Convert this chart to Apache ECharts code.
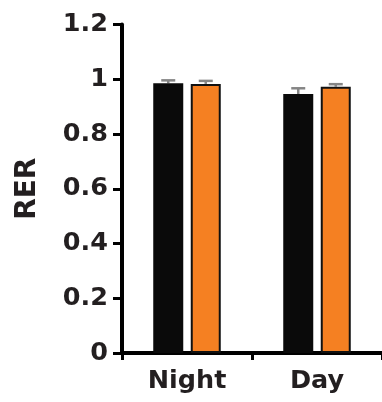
<!DOCTYPE html>
<html>
<head>
<meta charset="utf-8">
<script src="https://cdn.jsdelivr.net/npm/echarts@6/dist/echarts.min.js"></script>
<style>
  html, body { margin: 0; padding: 0; background: #fff; }
  #chart { width: 382px; height: 402px; }
</style>
</head>
<body>
<div id="chart"></div>
<script>
// RER by light phase, two groups, mean ± SEM
const categories = ['Night', 'Day'];
const groupAMean = [0.985, 0.946];
const groupAErr = [0.011, 0.021];
const groupBMean = [0.983, 0.973];
const groupBErr = [0.011, 0.009];
const yTicks = [0, 0.2, 0.4, 0.6, 0.8, 1, 1.2];

const BAR_W = 30;
const BAR_GAP = 0.25;
const OFFSET = (BAR_W * (1 + BAR_GAP)) / 2;
const TEXT = '#231f20';
const FONT = 'DejaVu Sans';

function errorSeries(means, errs, dx) {
  return {
    type: 'custom',
    z: 1,
    data: means.map((m, i) => [i, m, errs[i]]),
    renderItem: function (params, api) {
      const i = api.value(0);
      const top = api.coord([i, api.value(1) + api.value(2)]);
      const base = api.coord([i, api.value(1)]);
      const x = top[0] + dx;
      const style = { stroke: '#858585', lineWidth: 2.5 };
      return {
        type: 'group',
        children: [
          { type: 'line', shape: { x1: x, y1: base[1], x2: x, y2: top[1] }, style: style },
          { type: 'line', shape: { x1: x - 7, y1: top[1], x2: x + 7, y2: top[1] }, style: style }
        ]
      };
    }
  };
}

const chart = echarts.init(document.getElementById('chart'), null, { renderer: 'canvas' });
chart.setOption({
  animation: false,
  grid: { left: 122, right: -2, top: 24.5, bottom: 49, containLabel: false },
  xAxis: {
    type: 'category',
    data: categories,
    axisLine: { lineStyle: { color: '#000', width: 4 } },
    axisTick: { show: true, length: 7, lineStyle: { color: '#000', width: 3 } },
    axisLabel: { color: TEXT, fontFamily: FONT, fontWeight: 'bold', fontSize: 25.5, margin: 15 }
  },
  yAxis: {
    type: 'value',
    min: yTicks[0],
    max: yTicks[yTicks.length - 1],
    interval: 0.2,
    name: 'RER',
    nameLocation: 'middle',
    nameGap: 80,
    nameRotate: 90,
    nameTextStyle: { color: TEXT, fontFamily: FONT, fontWeight: 'bold', fontSize: 28 },
    splitLine: { show: false },
    axisLine: { show: true, lineStyle: { color: '#000', width: 4 } },
    axisTick: { show: true, length: 9, lineStyle: { color: '#000', width: 3 } },
    axisLabel: {
      color: TEXT, fontFamily: FONT, fontWeight: 'bold', fontSize: 25.5, margin: 14,
      formatter: function (v) { return String(Math.round(v * 10) / 10); }
    }
  },
  series: [
    errorSeries(groupAMean, groupAErr, -OFFSET),
    errorSeries(groupBMean, groupBErr, OFFSET),
    {
      type: 'bar',
      z: 2,
      data: groupAMean,
      barWidth: BAR_W,
      barGap: (BAR_GAP * 100) + '%',
      itemStyle: { color: '#0a0a0a', borderColor: '#0a0a0a', borderWidth: 2 }
    },
    {
      type: 'bar',
      z: 2,
      data: groupBMean,
      barWidth: BAR_W,
      barGap: (BAR_GAP * 100) + '%',
      itemStyle: { color: '#f58022', borderColor: '#111', borderWidth: 2 }
    }
  ]
});
</script>
</body>
</html>
